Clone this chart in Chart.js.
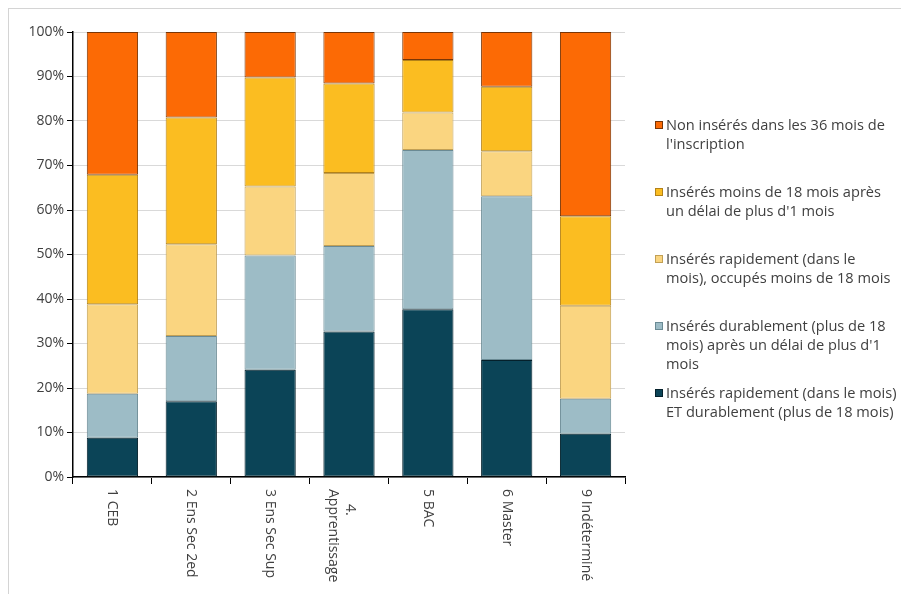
<!DOCTYPE html>
<html>
<head>
<meta charset="utf-8">
<script src="https://cdn.jsdelivr.net/npm/chart.js@4.4.1/dist/chart.umd.min.js"></script>
<style>
  html, body { margin: 0; padding: 0; background: #fff; }
  #wrap { position: relative; width: 901px; height: 594px; font-family: "Open Sans", sans-serif; }
  #frame { position: absolute; left: 8px; top: 8px; width: 900px; height: 600px; border-left: 1px solid #d4d4d4; border-top: 1px solid #d4d4d4; }
  #legend { position: absolute; left: 653px; top: 115px; width: 250px; font-size: 14.6px; color: #404040; line-height: 19px; white-space: nowrap; }
  .item { position: absolute; left: 0; padding-left: 13px; }
  .item span.box { position: absolute; left: 2px; top: 6px; width: 8px; height: 8px; }
</style>
</head>
<body>
<div id="wrap">
  <div id="frame"></div>
  <canvas id="c" width="901" height="594"></canvas>
  <div id="legend"></div>
</div>
<script>
var categories = [['1 CEB'], ['2 Ens Sec 2ed'], ['3 Ens Sec Sup'], ['4.', 'Apprentissage'], ['5 BAC'], ['6 Master'], ['9 Indéterminé']];

var seriesNames = [
  'Insérés rapidement (dans le mois) ET durablement (plus de 18 mois)',
  'Insérés durablement (plus de 18 mois) après un délai de plus d\'1 mois',
  'Insérés rapidement (dans le mois), occupés moins de 18 mois',
  'Insérés moins de 18 mois après un délai de plus d\'1 mois',
  'Non insérés dans les 36 mois de l\'inscription'
];

// legend lines as wrapped in the picture
var legendLines = [
  ['Insérés rapidement (dans le mois)', 'ET durablement (plus de 18 mois)'],
  ['Insérés durablement (plus de 18', 'mois) après un délai de plus d\'1', 'mois'],
  ['Insérés rapidement (dans le', 'mois), occupés moins de 18 mois'],
  ['Insérés moins de 18 mois après', 'un délai de plus d\'1 mois'],
  ['Non insérés dans les 36 mois de', 'l\'inscription']
];

var rapideDurable = [8.8, 17.0, 24.1, 32.7, 37.7, 26.3, 9.7];
var durableApresDelai = [9.9, 14.7, 25.7, 19.2, 35.8, 36.8, 7.9];
var rapideCourt = [20.1, 20.6, 15.5, 16.4, 8.4, 10.1, 20.9];
var moins18Delai = [29.1, 28.5, 24.5, 20.1, 11.8, 14.5, 20.1];
var nonInseres = [32.1, 19.2, 10.2, 11.6, 6.3, 12.3, 41.4];

var yTicks = [0, 10, 20, 30, 40, 50, 60, 70, 80, 90, 100];

var colors = ['#0b4457', '#9dbcc6', '#fad580', '#fbbd21', '#fc6a05'];
var borders = ['#04202b', '#6a8a94', '#c2a055', '#b38219', '#7a3505'];

var values = [rapideDurable, durableApresDelai, rapideCourt, moins18Delai, nonInseres];

var xLabelPlugin = {
  id: 'xLabels',
  afterDraw: function (chart) {
    var ctx = chart.ctx;
    var xs = chart.scales.x;
    ctx.save();
    ctx.font = '14px "Open Sans"';
    ctx.fillStyle = '#404040';
    ctx.textAlign = 'left';
    ctx.textBaseline = 'middle';
    categories.forEach(function (lines, i) {
      var x = xs.getPixelForValue(i);
      lines.forEach(function (line, j) {
        ctx.save();
        var startY = (lines.length > 1 && j === 0) ? 504 : 489;
        ctx.translate(x + (lines.length > 1 ? (j === 0 ? 1 : -16) : 0), startY);
        ctx.rotate(Math.PI / 2);
        ctx.fillText(line, 0, 0);
        ctx.restore();
      });
    });
    ctx.restore();
  }
};

var ctx = document.getElementById('c').getContext('2d');
new Chart(ctx, {
  type: 'bar',
  data: {
    labels: categories.map(function (c) { return c.join(' '); }),
    datasets: values.map(function (v, i) {
      return {
        label: seriesNames[i],
        data: v,
        backgroundColor: colors[i],
        borderColor: borders[i],
        borderWidth: 1,
        borderSkipped: false,
        barPercentage: 0.65,
        categoryPercentage: 1
      };
    })
  },
  options: {
    responsive: false,
    animation: false,
    layout: { padding: { top: 32, right: 276, left: 12, bottom: 0 } },
    plugins: { legend: { display: false }, tooltip: { enabled: false } },
    scales: {
      x: {
        stacked: true,
        offset: true,
        grid: { display: true, drawOnChartArea: false, drawTicks: true, tickLength: 7, tickColor: '#000', offset: true },
        border: { display: true, color: '#000', width: 1.5 },
        ticks: { display: false },
        afterFit: function (s) { s.height = 594 - 477; }
      },
      y: {
        stacked: true,
        min: 0,
        max: 100,
        afterBuildTicks: function (s) { s.ticks = yTicks.map(function (v) { return { value: v }; }); },
        grid: { color: '#d9d9d9', tickColor: '#000', tickLength: 6 },
        border: { display: true, color: '#000', width: 1.5 },
        ticks: {
          color: '#404040',
          font: { family: 'Open Sans', size: 14 },
          padding: 3,
          callback: function (v) { return v + '%'; }
        },
        afterFit: function (s) { s.width = 73 - 12; }
      }
    }
  },
  plugins: [xLabelPlugin]
});

var legend = document.getElementById('legend');
var tops = [276, 209, 142, 75, 8];
for (var k = seriesNames.length - 1; k >= 0; k--) {
  var it = document.createElement('div');
  it.className = 'item';
  it.style.top = (tops[k] - 8) + 'px';
  it.innerHTML = '<span class="box" style="background:' + colors[k] + ';border:1px solid ' + borders[k] + ';box-sizing:border-box"></span>' + legendLines[k].join('<br>');
  legend.appendChild(it);
}
</script>
</body>
</html>
